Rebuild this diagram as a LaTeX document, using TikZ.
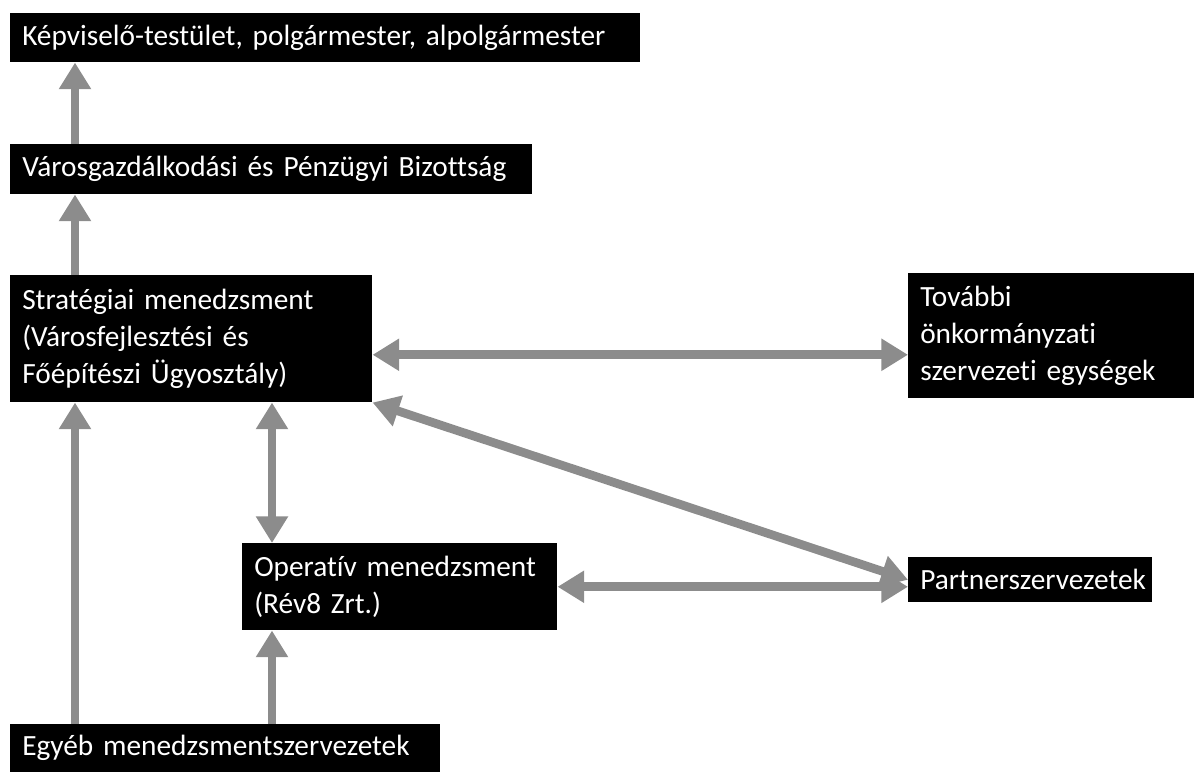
\documentclass[tikz,border=0pt]{standalone}
\usepackage{fontspec}
\setmainfont{Carlito}[Ligatures=NoCommon]
\usepackage{xcolor}
\usetikzlibrary{arrows.meta}

\tikzset{
    box/.style={fill=black, text=white, anchor=north west, align=left,
        inner xsep=9pt, inner ysep=0pt, font=\fontsize{22}{28}\selectfont},
    conn/.style={draw=black!45, line width=6.5pt, -{Triangle[width=23pt,length=20pt]}},
    both/.style={conn, {Triangle[width=23pt,length=20pt]}-{Triangle[width=23pt,length=20pt]}}
}

\begin{document}
\begin{tikzpicture}[x=0.75pt, y=-0.75pt]
        % Fix the page size
        \useasboundingbox (0,0) rectangle (1194,772);

        % Place the boxes
        \node[box, text width=454.5pt, minimum height=36.75pt] (kepv) at (10,13) {Képviselő-testület, polgármester, alpolgármester};
        \node[box, text width=373.5pt, minimum height=37.5pt] (varos) at (10,144) {Városgazdálkodási és Pénzügyi Bizottság};
        \node[box, text width=253.5pt, minimum height=95.25pt] (strat) at (10,275) {Stratégiai menedzsment\\(Városfejlesztési és\\Főépítészi Ügyosztály)};
        \node[box, text width=196.5pt, minimum height=93.75pt] (tovabbi) at (908,273) {További\\önkormányzati\\szervezeti egységek};
        \node[box, text width=218.25pt, minimum height=65.25pt] (oper) at (242,543) {Operatív menedzsment\\(Rév8 Zrt.)};
        \node[box, text width=165pt, minimum height=33.75pt] (partner) at (908,557) {Partnerszervezetek};
        \node[box, text width=304.5pt, minimum height=36pt] (egyeb) at (10,724) {Egyéb menedzsmentszervezetek};

        % Columns of the vertical arrows
        \coordinate (lcol) at ([xshift=48.75pt]egyeb.north west);
        \coordinate (mcol) at ([xshift=22.5pt]oper.north west);
        \coordinate (sright) at ([yshift=-12pt]strat.east);

        % Upward arrows
        \draw[conn] (lcol |- varos.north) -- (lcol |- kepv.south);
        \draw[conn] (lcol |- strat.north) -- (lcol |- varos.south);
        \draw[conn] (lcol) -- (lcol |- strat.south);
        \draw[conn] (mcol |- egyeb.north) -- (mcol |- oper.south);

        % Two-way arrows
        \draw[both] (mcol |- oper.north) -- (mcol |- strat.south);
        \draw[both] (sright) -- (sright -| tovabbi.west);
        \draw[both] (strat.south east) -- (partner.west);
        \draw[both] (oper.east) -- (oper.east -| partner.west);
\end{tikzpicture}
\end{document}
